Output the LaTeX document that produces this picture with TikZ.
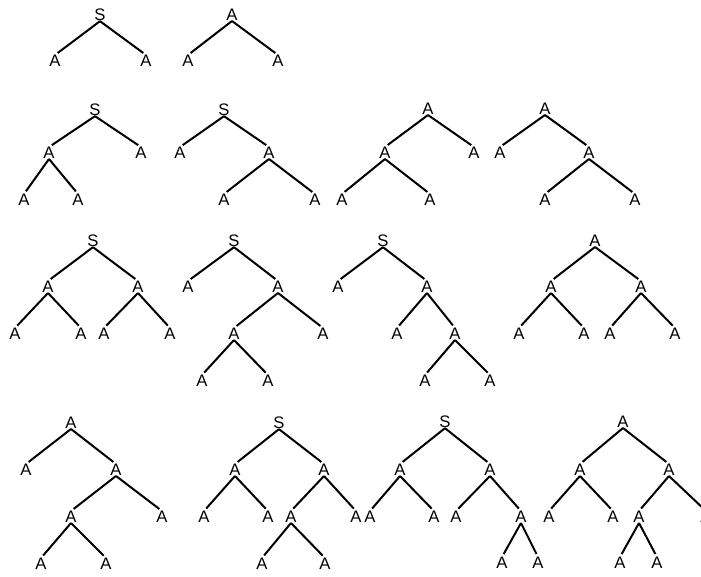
\documentclass[tikz,border=0pt]{standalone}
\usepackage{fontspec}
\setmainfont{Liberation Sans}
\begin{document}
\begin{tikzpicture}[
  x=0.75pt, y=-0.75pt,
  sym/.style={inner sep=0pt, font=\fontsize{12.5}{14}\selectfont},
  branch/.style={line width=1.5pt, shorten >=2.5pt},
]
\useasboundingbox (0,0) rectangle (701,576);
% row 1
\node[sym] (t1) at (100,15) {S};
\node[sym] (t1l) at (55,61) {A};
\node[sym] (t1r) at (146,61) {A};
\node[sym] (t2) at (232,15) {A};
\node[sym] (t2l) at (188,61) {A};
\node[sym] (t2r) at (278,61) {A};
% row 2
\node[sym] (t3) at (95,110) {S};
\node[sym] (t3l) at (49,153) {A};
\node[sym] (t3r) at (141,153) {A};
\node[sym] (t3ll) at (24,200) {A};
\node[sym] (t3lr) at (78,200) {A};
\node[sym] (t4) at (224,110) {S};
\node[sym] (t4l) at (180,153) {A};
\node[sym] (t4r) at (269,153) {A};
\node[sym] (t4rl) at (224,200) {A};
\node[sym] (t4rr) at (315,200) {A};
\node[sym] (t5) at (428,109) {A};
\node[sym] (t5l) at (385,153) {A};
\node[sym] (t5r) at (474,153) {A};
\node[sym] (t5ll) at (342,200) {A};
\node[sym] (t5lr) at (430,200) {A};
\node[sym] (t6) at (545,109) {A};
\node[sym] (t6l) at (500,153) {A};
\node[sym] (t6r) at (589,153) {A};
\node[sym] (t6rl) at (545,200) {A};
\node[sym] (t6rr) at (635,200) {A};
% row 3
\node[sym] (t7) at (93,241) {S};
\node[sym] (t7l) at (48,287) {A};
\node[sym] (t7r) at (138,287) {A};
\node[sym] (t7ll) at (15,334) {A};
\node[sym] (t7lr) at (81,334) {A};
\node[sym] (t7rl) at (104,334) {A};
\node[sym] (t7rr) at (170,334) {A};
\node[sym] (t8) at (234,241) {S};
\node[sym] (t8l) at (188,287) {A};
\node[sym] (t8r) at (278,287) {A};
\node[sym] (t8rl) at (234,334) {A};
\node[sym] (t8rr) at (323,334) {A};
\node[sym] (t8rll) at (202,381) {A};
\node[sym] (t8rlr) at (268,381) {A};
\node[sym] (t9) at (383,241) {S};
\node[sym] (t9l) at (338,287) {A};
\node[sym] (t9r) at (427,287) {A};
\node[sym] (t9rl) at (397,334) {A};
\node[sym] (t9rr) at (455,334) {A};
\node[sym] (t9rrl) at (425,381) {A};
\node[sym] (t9rrr) at (490,381) {A};
\node[sym] (t10) at (595,241) {A};
\node[sym] (t10l) at (551,287) {A};
\node[sym] (t10r) at (641,287) {A};
\node[sym] (t10ll) at (519,334) {A};
\node[sym] (t10lr) at (584,334) {A};
\node[sym] (t10rl) at (610,334) {A};
\node[sym] (t10rr) at (675,334) {A};
% row 4
\node[sym] (t11) at (71,423) {A};
\node[sym] (t11l) at (26,470) {A};
\node[sym] (t11r) at (116,470) {A};
\node[sym] (t11rl) at (71,517) {A};
\node[sym] (t11rr) at (162,517) {A};
\node[sym] (t11rll) at (41,564) {A};
\node[sym] (t11rlr) at (106,564) {A};
\node[sym] (t12) at (279,423) {S};
\node[sym] (t12l) at (235,470) {A};
\node[sym] (t12r) at (324,470) {A};
\node[sym] (t12ll) at (204,517) {A};
\node[sym] (t12lr) at (268,517) {A};
\node[sym] (t12rl) at (291,517) {A};
\node[sym] (t12rr) at (356,517) {A};
\node[sym] (t12rll) at (262,564) {A};
\node[sym] (t12rlr) at (325,564) {A};
\node[sym] (t13) at (445,422) {S};
\node[sym] (t13l) at (400,470) {A};
\node[sym] (t13r) at (490,470) {A};
\node[sym] (t13ll) at (370,517) {A};
\node[sym] (t13lr) at (434,517) {A};
\node[sym] (t13rl) at (456,517) {A};
\node[sym] (t13rr) at (521,517) {A};
\node[sym] (t13rrl) at (502,563) {A};
\node[sym] (t13rrr) at (538,563) {A};
\node[sym] (t14) at (623,422) {A};
\node[sym] (t14l) at (580,470) {A};
\node[sym] (t14r) at (669,470) {A};
\node[sym] (t14ll) at (549,517) {A};
\node[sym] (t14lr) at (613,517) {A};
\node[sym] (t14rl) at (639,517) {A};
\node[sym] (t14rr) at (706,517) {A};
\node[sym] (t14rll) at (620,563) {A};
\node[sym] (t14rlr) at (657,563) {A};

% branches
\foreach \p/\c in {t1/t1l, t1/t1r, t2/t2l, t2/t2r,
  t3/t3l, t3/t3r, t3l/t3ll, t3l/t3lr,
  t4/t4l, t4/t4r, t4r/t4rl, t4r/t4rr,
  t5/t5l, t5/t5r, t5l/t5ll, t5l/t5lr,
  t6/t6l, t6/t6r, t6r/t6rl, t6r/t6rr,
  t7/t7l, t7/t7r, t7l/t7ll, t7l/t7lr, t7r/t7rl, t7r/t7rr,
  t8/t8l, t8/t8r, t8r/t8rl, t8r/t8rr, t8rl/t8rll, t8rl/t8rlr,
  t9/t9l, t9/t9r, t9r/t9rl, t9r/t9rr, t9rr/t9rrl, t9rr/t9rrr,
  t10/t10l, t10/t10r, t10l/t10ll, t10l/t10lr, t10r/t10rl, t10r/t10rr,
  t11/t11l, t11/t11r, t11r/t11rl, t11r/t11rr, t11rl/t11rll, t11rl/t11rlr,
  t12/t12l, t12/t12r, t12l/t12ll, t12l/t12lr, t12r/t12rl, t12r/t12rr, t12rl/t12rll, t12rl/t12rlr,
  t13/t13l, t13/t13r, t13l/t13ll, t13l/t13lr, t13r/t13rl, t13r/t13rr, t13rr/t13rrl, t13rr/t13rrr,
  t14/t14l, t14/t14r, t14l/t14ll, t14l/t14lr, t14r/t14rl, t14r/t14rr, t14rl/t14rll, t14rl/t14rlr}
  \draw[branch] (\p.south) -- (\c.north);
\end{tikzpicture}
\end{document}
